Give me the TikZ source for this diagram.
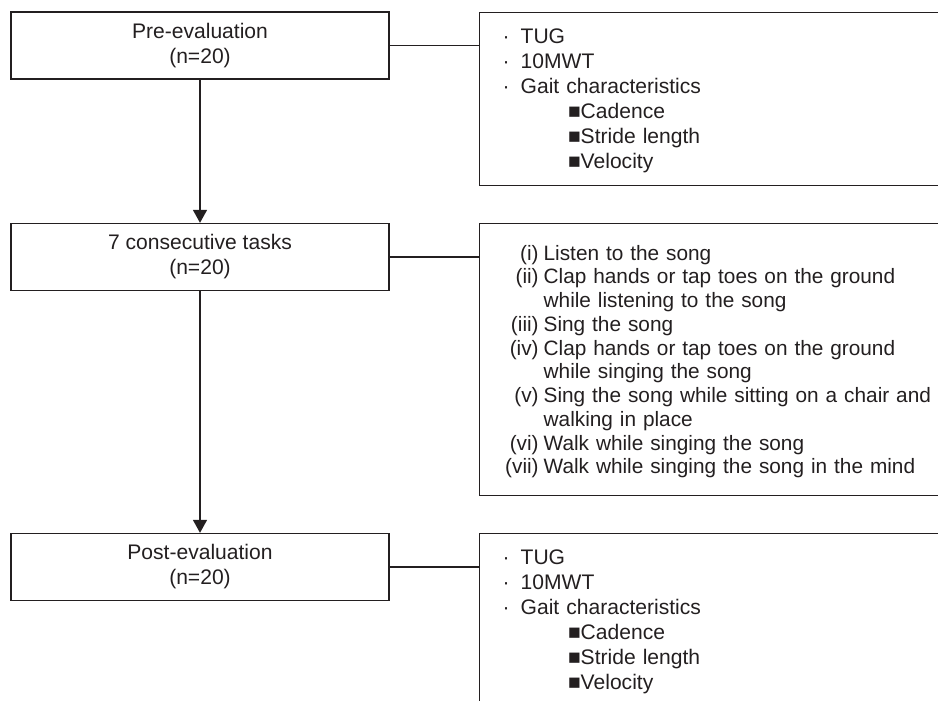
\documentclass[tikz,border=0pt]{standalone}
\usepackage{fontspec}
\setmainfont{Liberation Sans}
\usetikzlibrary{arrows.meta}

\definecolor{inkgray}{HTML}{231F20}

\newcommand{\tasklbl}[1]{\makebox[28.5pt][r]{#1}\hspace{3.75pt}}
\newcommand{\taskcont}{\hspace*{32.25pt}}
\newcommand{\mainpt}[1]{\makebox[13.5pt][l]{·}#1}
\newcommand{\gaitpt}[1]{\hspace*{49pt}■#1}

\tikzset{
  stagebox/.style={draw=inkgray, line width=1pt, text=inkgray, align=center,
    inner sep=0pt, minimum width=283.5pt, minimum height=50.25pt,
    font=\fontsize{15.8}{18.75}\selectfont},
  listbox/.style={draw=inkgray, line width=1pt, text=inkgray, anchor=north west,
    align=left, inner ysep=0pt, inner xsep=17.25pt, text width=325.5pt,
    font=\fontsize{15.8}{18.75}\selectfont},
  link/.style={draw=inkgray, line width=1pt},
  flow/.style={link, -{Triangle[length=9.75pt,width=10.5pt]}}
}

\begin{document}
\begin{tikzpicture}[x=0.75pt, y=-0.75pt]
  \useasboundingbox (0,0) rectangle (938,700);
  \clip (0,0) rectangle (938,700);

  % stages
  \node[stagebox] (pre) at (200,45.5) {Pre-evaluation\\(n=20)};
  \node[stagebox] (tasks) at (200,257) {7 consecutive tasks\\(n=20)};
  \node[stagebox] (post) at (200,567) {Post-evaluation\\(n=20)};

  % what is measured / done at each stage
  \node[listbox, minimum height=129.75pt] (prelist) at (479,12) {%
    \mainpt{TUG}\\
    \mainpt{10MWT}\\
    \mainpt{Gait characteristics}\\
    \gaitpt{Cadence}\\
    \gaitpt{Stride length}\\
    \gaitpt{Velocity}\vspace{-3pt}};
  \node[listbox, minimum height=204pt, inner xsep=15.75pt, text width=328.5pt,
    font=\fontsize{15.6}{17.8}\selectfont] (tasklist) at (479,223) {%
    \tasklbl{(i)}Listen to the song\\
    \tasklbl{(ii)}Clap hands or tap toes on the ground\\
    \taskcont while listening to the song\\
    \tasklbl{(iii)}Sing the song\\
    \tasklbl{(iv)}Clap hands or tap toes on the ground\\
    \taskcont while singing the song\\
    \tasklbl{(v)}Sing the song while sitting on a chair and\\
    \taskcont walking in place\\
    \tasklbl{(vi)}Walk while singing the song\\
    \tasklbl{(vii)}Walk while singing the song in the mind\vspace{-3pt}};
  \node[listbox, minimum height=129.75pt] (postlist) at (479,533) {%
    \mainpt{TUG}\\
    \mainpt{10MWT}\\
    \mainpt{Gait characteristics}\\
    \gaitpt{Cadence}\\
    \gaitpt{Stride length}\\
    \gaitpt{Velocity}\vspace{-3pt}};

  \draw[flow] (pre) -- (tasks);
  \draw[flow] (tasks) -- (post);

  \draw[link] (pre.east) -- (pre.east -| prelist.west);
  \draw[link] (tasks.east) -- (tasks.east -| tasklist.west);
  \draw[link] (post.east) -- (post.east -| postlist.west);
\end{tikzpicture}
\end{document}
